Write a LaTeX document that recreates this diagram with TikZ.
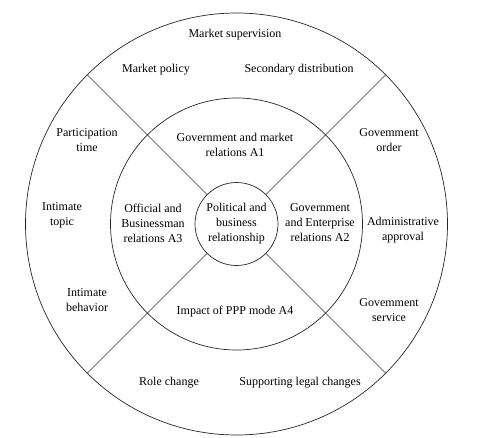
\documentclass[tikz,border=0pt]{standalone}
\usepackage{fontspec}
\setmainfont{Liberation Serif}
\begin{document}
\begin{tikzpicture}[x=1pt,y=-1pt,
  ring/.style={draw=black!85,line width=0.7pt},
  spoke/.style={draw=black!80,line width=0.6pt},
  lbl/.style={align=center,font=\fontsize{12}{15}\selectfont,inner sep=0pt}]
\useasboundingbox (0,0) rectangle (477,437);
\coordinate (c) at (236.5,224);
\node[ring,circle,minimum size=422pt,inner sep=0pt] (outer) at (c) {};
\node[ring,circle,minimum size=252pt,inner sep=0pt] (mid) at (c) {};
\node[ring,circle,minimum size=83pt,inner sep=0pt] (inner) at (c) {};
\foreach \a in {45,135,225,315}{
  \draw[spoke] (inner.\a) -- (outer.\a);
}
% centre
\node[lbl] (core) at (c) {Political and\\business\\relationship};
% middle ring
\node[lbl] (a1) at (235,144.5) {Government and market\\relations A1};
\node[lbl] (a2) at (320,223) {Government\\and Enterprise\\relations A2};
\node[lbl] (a3) at (153,223) {Official and\\Businessman\\relations A3};
\node[lbl] (a4) at (235,312) {Impact of PPP mode A4};
% outer ring top
\node[lbl] (ms) at (235,35) {Market supervision};
\node[lbl] (mp) at (156,70) {Market policy};
\node[lbl] (sd) at (299,70) {Secondary distribution};
% outer ring left
\node[lbl] (pt) at (87,140.5) {Participation\\time};
\node[lbl] (it) at (62,215.5) {Intimate\\topic};
\node[lbl] (ib) at (87,300.5) {Intimate\\behavior};
% outer ring right
\node[lbl] (go) at (389,140) {Govemment\\order};
\node[lbl] (aa) at (403,230) {Administrative\\approval};
\node[lbl] (gs) at (389,310.5) {Govemment\\service};
% outer ring bottom
\node[lbl] (rc) at (169,383) {Role change};
\node[lbl] (sl) at (300,383) {Supporting legal changes};
\end{tikzpicture}
\end{document}
